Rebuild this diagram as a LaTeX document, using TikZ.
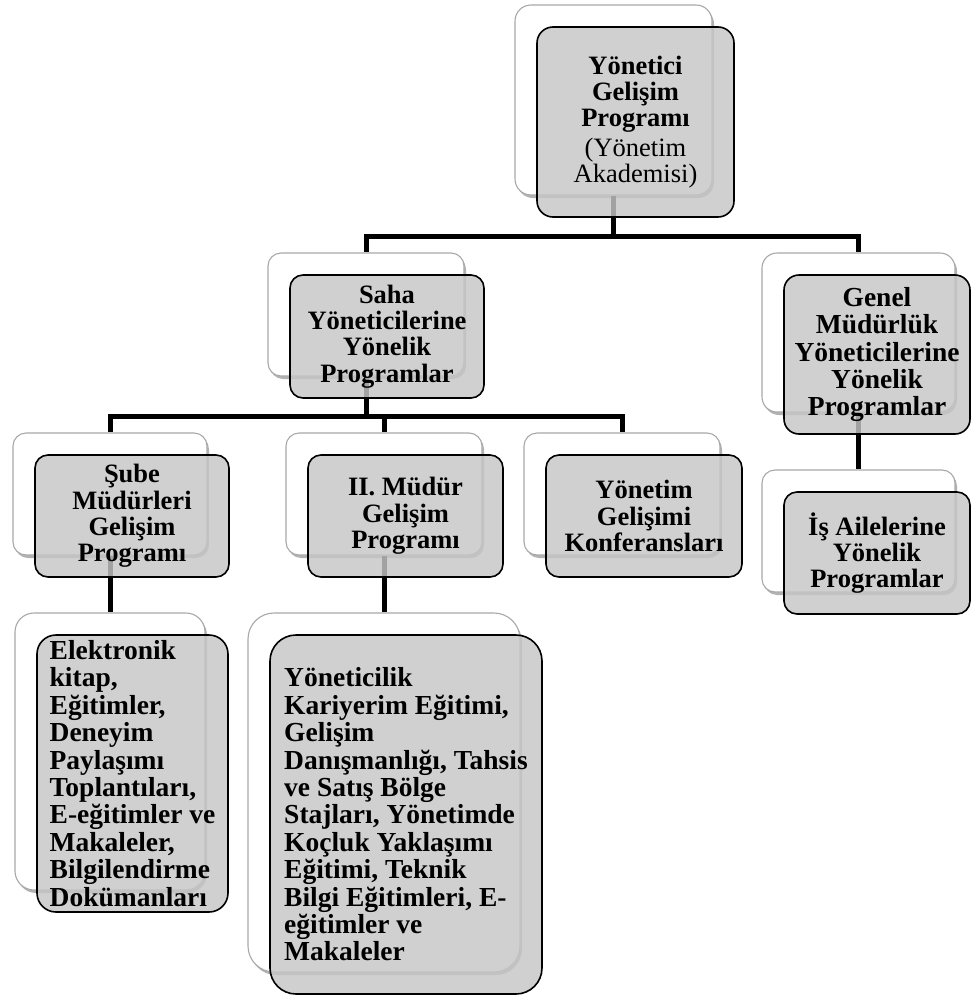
\documentclass[tikz,border=0pt]{standalone}
\usepackage{fontspec}
\setmainfont{Liberation Serif}
\usetikzlibrary{shadows}
\pgfdeclarelayer{links}
\pgfsetlayers{links,main}

\definecolor{frontgray}{RGB}{198,198,198}
\definecolor{backedge}{RGB}{168,168,168}
\newcommand\boxfont{\fontsize{26.5}{26.4}\selectfont\bfseries}
\newcommand\bigboxfont{\fontsize{27.5}{27.4}\selectfont\bfseries}

\tikzset{
  backbox/.style={draw=backedge, line width=1.1pt, fill=white, inner sep=0pt,
    drop shadow={shadow xshift=2pt, shadow yshift=-3pt, opacity=0.3, fill=black}},
  frontbox/.style={draw=black, line width=1.6pt, fill=frontgray, fill opacity=0.82,
    text opacity=1, inner sep=0pt, font=\boxfont, align=center},
  conn/.style={line width=5pt, draw=black},
}

% #1 name, #2 left, #3 top, #4 back width, #5 height, #6 front width,
% #7 corner radius, #8 extra options for the front box, #9 text
\newcommand\pairbox[9]{%
  \node[backbox, minimum width=#4, minimum height=#5, rounded corners=#7]
    (#1B) at ({#2+#4/2},{#3+#5/2}) {};
  \node[frontbox, minimum width=#6, minimum height=#5, rounded corners=#7, #8]
    (#1F) at ({#2+22+#6/2},{#3+22+#5/2}) {#9};
}

\begin{document}
\begin{tikzpicture}[x=1pt, y=-1pt]
\useasboundingbox (0,0) rectangle (971,996);

\pairbox{top}{515}{5}{197}{190}{197}{16}{}
  {Yönetici\\Gelişim\\Programı\\[3pt]\mdseries (Yönetim\\\mdseries Akademisi)}

\pairbox{saha}{268}{253}{196}{123}{194}{13}{}
  {Saha\\Yöneticilerine\\Yönelik\\Programlar}
\pairbox{genel}{762}{253}{193}{159}{186}{15}{font=\bigboxfont}
  {Genel\\Müdürlük\\Yöneticilerine\\Yönelik\\Programlar}

\pairbox{sube}{13}{433}{194}{122}{194}{13}{}
  {Şube\\Müdürleri\\Gelişim\\Programı}
\pairbox{ii}{286}{433}{196}{122}{195}{13}{}
  {II. Müdür\\Gelişim\\Programı}
\pairbox{konf}{524}{433}{196}{122}{196}{13}{}
  {Yönetim\\Gelişimi\\Konferansları}
\pairbox{is}{762}{470}{193}{122}{186}{13}{}
  {İş Ailelerine\\Yönelik\\Programlar}

\pairbox{elek}{15}{613}{190}{277}{191}{19}{align=left, font=\bigboxfont}
  {Elektronik\\kitap,\\Eğitimler,\\Deneyim\\Paylaşımı\\Toplantıları,\\E-eğitimler ve\\Makaleler,\\Bilgilendirme\\Dokümanları}
\pairbox{yon}{248}{613}{272}{359}{272}{26}{align=left, font=\bigboxfont}
  {Yöneticilik\\Kariyerim Eğitimi,\\Gelişim\\Danışmanlığı, Tahsis\\ve Satış Bölge\\Stajları, Yönetimde\\Koçluk Yaklaşımı\\Eğitimi, Teknik\\Bilgi Eğitimleri, E-\\eğitimler ve\\Makaleler}

% levels of the horizontal bars
\coordinate (bar1) at (0,236);
\coordinate (bar2) at (0,416);

\begin{pgfonlayer}{links}
  \draw[conn] (topB.south) -- (topB.south |- bar1) -| (sahaB.north);
  \draw[conn] (topB.south |- bar1) -| (genelB.north);
  \draw[conn] (sahaB.south) -- (sahaB.south |- bar2) -| (subeB.north);
  \draw[conn] (sahaB.south |- bar2) -| (iiB.north);
  \draw[conn] (sahaB.south |- bar2) -| (konfB.north);
  \draw[conn] (subeB.south) -- (elekB.north);
  \draw[conn] (iiB.south) -- (yonB.north);
  \draw[conn] (genelB.south) -- (isB.north);
\end{pgfonlayer}
\end{tikzpicture}
\end{document}
